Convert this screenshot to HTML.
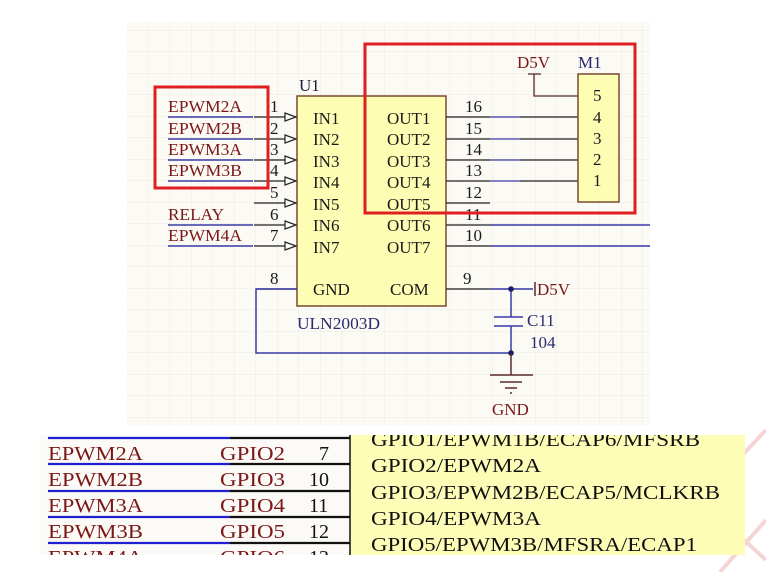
<!DOCTYPE html>
<html><head><meta charset="utf-8"><style>
html,body{margin:0;padding:0;background:#fff;}
svg{display:block;}
text{font-family:"Liberation Serif",serif;}
</style></head><body>
<svg width="766" height="572" viewBox="0 0 766 572" xmlns="http://www.w3.org/2000/svg">
<defs>
<pattern id="g" x="127" y="9" width="21.5" height="21.5" patternUnits="userSpaceOnUse">
<path d="M21.5 0V21.5M0 21.5H21.5" stroke="#ece9e2" stroke-width="1" fill="none"/>
</pattern>
</defs>
<g stroke="#f6d4d4" stroke-width="4" fill="none">
<path d="M766 430 L700 500 L766 560"/><path d="M720 572 L766 520"/>
</g>
<rect x="127" y="22" width="523" height="403" fill="#fcfaf5"/>
<rect x="127" y="22" width="523" height="403" fill="url(#g)"/>

<rect x="297" y="96" width="149" height="210" fill="#fdfdb4" stroke="#7a4a30" stroke-width="1.5"/>
<text x="299" y="91" font-size="17" fill="#1a1a3a">U1</text>
<text x="297" y="329" font-size="17" fill="#2a2a70" textLength="83" lengthAdjust="spacingAndGlyphs">ULN2003D</text>

<g font-size="17" fill="#1a1a1a">
<text x="313" y="124">IN1</text><text x="313" y="145">IN2</text><text x="313" y="167">IN3</text>
<text x="313" y="188">IN4</text><text x="313" y="210">IN5</text><text x="313" y="231">IN6</text>
<text x="313" y="253">IN7</text>
<text x="387" y="124">OUT1</text><text x="387" y="145">OUT2</text><text x="387" y="167">OUT3</text>
<text x="387" y="188">OUT4</text><text x="387" y="210">OUT5</text><text x="387" y="231">OUT6</text>
<text x="387" y="253">OUT7</text>
<text x="313" y="295">GND</text><text x="390" y="295">COM</text>
</g>

<g stroke="#222" stroke-width="1.2" fill="none">
<path d="M254 117H285M254 139H285M254 160H285M254 181H285M254 203H285M254 225H285M254 246H285"/>
<g fill="#fff">
<path d="M285 113L296 117L285 121Z"/><path d="M285 135L296 139L285 143Z"/><path d="M285 156L296 160L285 164Z"/>
<path d="M285 177L296 181L285 185Z"/><path d="M285 199L296 203L285 207Z"/><path d="M285 221L296 225L285 229Z"/>
<path d="M285 242L296 246L285 250Z"/>
</g>
<path d="M446 117H490M446 139H490M446 160H490M446 181H490M446 203H490M446 225H490M446 246H490"/>
<path d="M520 117H578M520 139H578M520 160H578M520 181H578"/>
<path d="M256 289H297M446 289H490"/>
</g>
<g stroke="#3a3aa8" stroke-width="1.6">
<path d="M168 117H253M168 139H253M168 160H253M168 181H253M168 225H253M168 246H253"/>
<path d="M490 117H520M490 139H520M490 160H520M490 181H520" stroke-width="1.3"/>
<path d="M490 225H650M490 246H650"/>
</g>
<g font-size="17" fill="#1a1a1a">
<text x="270" y="112">1</text><text x="270" y="134">2</text><text x="270" y="155">3</text>
<text x="270" y="176">4</text><text x="270" y="198">5</text><text x="270" y="220">6</text>
<text x="270" y="241">7</text><text x="270" y="284">8</text>
<text x="465" y="112">16</text><text x="465" y="134">15</text><text x="465" y="155">14</text>
<text x="465" y="176">13</text><text x="465" y="198">12</text><text x="465" y="220">11</text>
<text x="465" y="241">10</text><text x="463" y="284">9</text>
</g>
<g font-size="17" fill="#7a1818">
<text x="168" y="112" textLength="74" lengthAdjust="spacingAndGlyphs">EPWM2A</text>
<text x="168" y="134" textLength="74" lengthAdjust="spacingAndGlyphs">EPWM2B</text>
<text x="168" y="155" textLength="74" lengthAdjust="spacingAndGlyphs">EPWM3A</text>
<text x="168" y="176" textLength="74" lengthAdjust="spacingAndGlyphs">EPWM3B</text>
<text x="168" y="220" textLength="56" lengthAdjust="spacingAndGlyphs">RELAY</text>
<text x="168" y="241" textLength="74" lengthAdjust="spacingAndGlyphs">EPWM4A</text>
</g>

<rect x="578" y="74" width="41" height="128" fill="#fdfdb4" stroke="#7a4a30" stroke-width="1.5"/>
<text x="578" y="68" font-size="17" fill="#2a2a70">M1</text>
<g font-size="17" fill="#1a1a1a">
<text x="593" y="101">5</text><text x="593" y="123">4</text><text x="593" y="144">3</text>
<text x="593" y="165">2</text><text x="593" y="186">1</text>
</g>
<path d="M528 74H541M534 74V96H578" stroke="#5a2a2a" stroke-width="1.3" fill="none"/>
<text x="517" y="68" font-size="17" fill="#7a1818">D5V</text>

<g stroke="#3a3aa8" stroke-width="1.5" fill="none">
<path d="M490 289H533"/>
<path d="M511 289V317M511 326V353"/>
<path d="M494 317H523M494 326H523"/>
<path d="M297 289H256V353H511"/>
</g>
<circle cx="511" cy="289" r="2.8" fill="#1a1a70"/>
<circle cx="511" cy="353" r="2.8" fill="#1a1a70"/>
<path d="M535 282V296M511 353V375" stroke="#5a2a2a" stroke-width="1.5"/>
<path d="M490 375H533M500 382H522M505 388H517M510 393H512" stroke="#5a2a2a" stroke-width="1.4"/>
<text x="537" y="295" font-size="17" fill="#7a1818">D5V</text>
<text x="527" y="326" font-size="17" fill="#2a2a70">C11</text>
<text x="530" y="348" font-size="17" fill="#2a2a70">104</text>
<text x="492" y="415" font-size="17" fill="#7a1818">GND</text>

<rect x="155" y="87" width="113" height="101" fill="none" stroke="#e02020" stroke-width="3"/>
<rect x="365" y="44" width="270" height="169" fill="none" stroke="#e02020" stroke-width="3"/>

<rect x="40" y="435" width="310" height="120" fill="#fcfaf6"/>
<g stroke="#2020d0" stroke-width="2.2">
<path d="M48 438H230M48 464H230M48 491H230M48 517H230M48 543H230"/>
</g>
<g stroke="#111" stroke-width="2.2">
<path d="M230 438H350M230 464H350M230 491H350M230 517H350M230 543H350"/>
</g>
<clipPath id="c"><rect x="40" y="435" width="700" height="120"/></clipPath>
<g font-size="20" fill="#7a1818" clip-path="url(#c)">
<text x="48" y="460" textLength="95" lengthAdjust="spacingAndGlyphs">EPWM2A</text>
<text x="48" y="486" textLength="95" lengthAdjust="spacingAndGlyphs">EPWM2B</text>
<text x="48" y="512" textLength="95" lengthAdjust="spacingAndGlyphs">EPWM3A</text>
<text x="48" y="538" textLength="95" lengthAdjust="spacingAndGlyphs">EPWM3B</text>
<text x="48" y="564" textLength="95" lengthAdjust="spacingAndGlyphs">EPWM4A</text>
<text x="220" y="460" textLength="65" lengthAdjust="spacingAndGlyphs">GPIO2</text>
<text x="220" y="486" textLength="65" lengthAdjust="spacingAndGlyphs">GPIO3</text>
<text x="220" y="512" textLength="65" lengthAdjust="spacingAndGlyphs">GPIO4</text>
<text x="220" y="538" textLength="65" lengthAdjust="spacingAndGlyphs">GPIO5</text>
<text x="220" y="564" textLength="65" lengthAdjust="spacingAndGlyphs">GPIO6</text>
</g>
<g font-size="20" fill="#111" clip-path="url(#c)">
<text x="319" y="460">7</text><text x="309" y="486">10</text><text x="309" y="512">11</text>
<text x="309" y="538">12</text><text x="309" y="564">13</text>
</g>
<rect x="350" y="435" width="395" height="120" fill="#fdfdb8"/>
<path d="M350 435V555" stroke="#111" stroke-width="1.5"/>
<g font-size="20" fill="#111" clip-path="url(#c)">
<text x="371" y="446" textLength="329" lengthAdjust="spacingAndGlyphs">GPIO1/EPWM1B/ECAP6/MFSRB</text>
<text x="371" y="472" textLength="170" lengthAdjust="spacingAndGlyphs">GPIO2/EPWM2A</text>
<text x="371" y="499" textLength="349" lengthAdjust="spacingAndGlyphs">GPIO3/EPWM2B/ECAP5/MCLKRB</text>
<text x="371" y="525" textLength="170" lengthAdjust="spacingAndGlyphs">GPIO4/EPWM3A</text>
<text x="371" y="551" textLength="326" lengthAdjust="spacingAndGlyphs">GPIO5/EPWM3B/MFSRA/ECAP1</text>
</g>
</svg>
</body></html>
